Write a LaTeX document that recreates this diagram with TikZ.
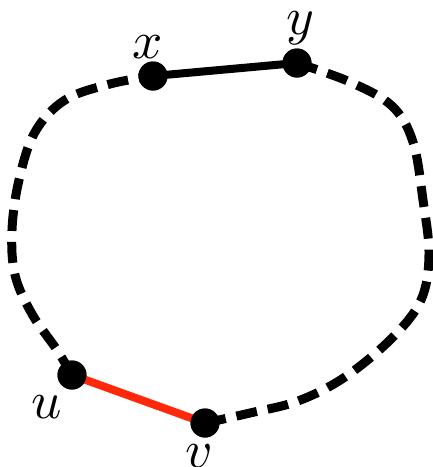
\documentclass[tikz,border=0pt]{standalone}
\usepackage{graphicx}
\usetikzlibrary{calc}
\definecolor{edgered}{RGB}{255,40,10}
\newcommand{\biglbl}[1]{\scalebox{5.3}{$#1$}}
\begin{document}
\begin{tikzpicture}[x=1pt,y=-1pt,
  vdot/.style={circle,fill=black,inner sep=0pt,minimum size=29pt},
  lbl/.style={anchor=base,inner sep=0pt},
  cyc/.style={line width=9pt,dash pattern=on 21pt off 11pt},
  edge/.style={line width=8pt}]
\useasboundingbox (0,0) rectangle (433,467);
\coordinate (px) at (153,76);
\coordinate (py) at (297,63);
\coordinate (pu) at (72,375);
\coordinate (pv) at (205,423);
\draw[cyc] plot[smooth,tension=0.6] coordinates {(py) (350,82) (392,106) (413,142) (423,200) (429,255) (421,300) (392,338) (345,377) (298,401) (250,413) (pv)};
\draw[cyc] plot[smooth,tension=0.6] coordinates {(pu) (57,350) (32,314) (15,275) (12,230) (19,180) (35,132) (65,100) (110,84) (px)};
\node[vdot] (x) at (px) {};
\node[vdot] (y) at (py) {};
\node[vdot] (u) at (pu) {};
\node[vdot] (v) at (pv) {};
\draw[edge] (x.center) -- (y.center);
\draw[edge,edgered] (u.center) -- (v.center);
\node[vdot] at (px) {};
\node[vdot] at (py) {};
\node[vdot] at (pu) {};
\node[vdot] at (pv) {};
\node[lbl] (lx) at (148,58) {\biglbl{x}};
\node[lbl] (ly) at (300,34) {\biglbl{y}};
\node[lbl] (lu) at (47,418) {\biglbl{u}};
\node[lbl] (lv) at (199,467) {\biglbl{v}};
\end{tikzpicture}
\end{document}
